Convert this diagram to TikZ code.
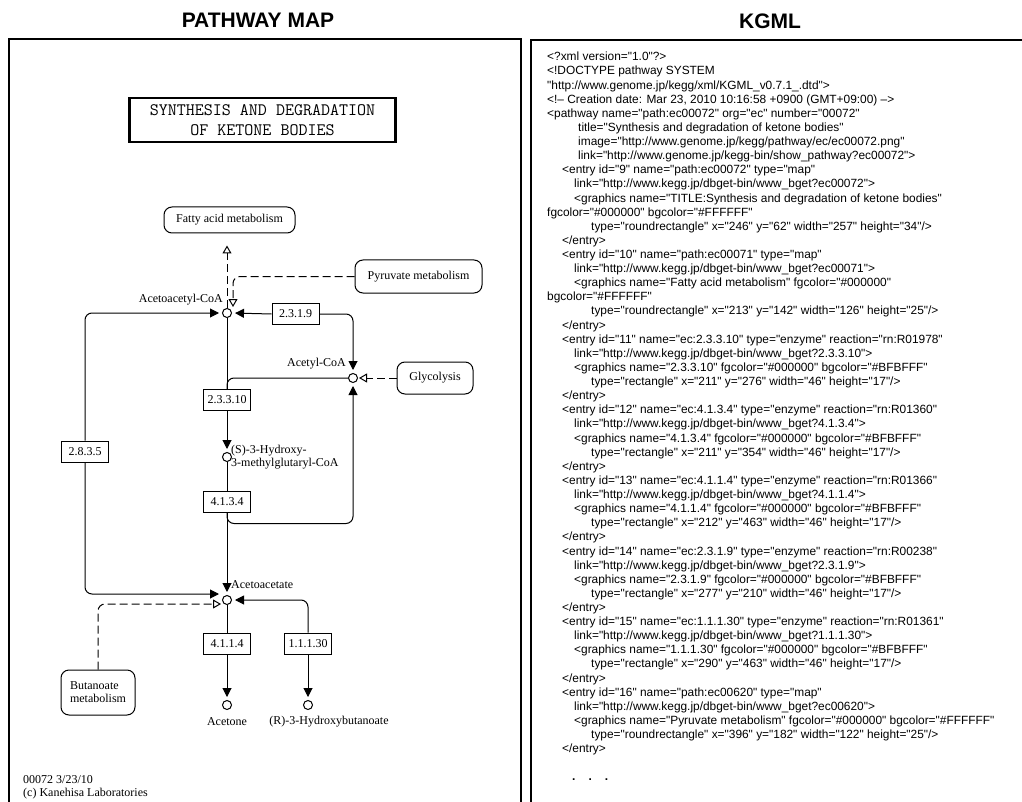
\documentclass[tikz,border=0pt]{standalone}
\usepackage{fontspec}
\setmainfont{Liberation Serif}
\newfontfamily\kgmlfont[Ligatures=TeXOff]{Liberation Sans}
\usetikzlibrary{
    arrows.meta,
    calc
}
\newcommand{\pmapfont}{\fontsize{12}{13}\selectfont}
\newcommand{\headfont}{\kgmlfont\bfseries\fontsize{21}{24}\selectfont}
\newcommand{\ttlfont}{\ttfamily\fontsize{17.5}{20}\selectfont}
\newcommand{\xmlfont}{\kgmlfont\fontsize{11.9}{14.12}\selectfont}
\newcommand{\ki}[1]{\hspace*{#1pt}}
\tikzset{
  every node/.style={
    inner sep=0pt,
    font=\pmapfont
  },
  frame/.style={
    black,
    line width=1.5pt
  }
}

\begin{document}
\begin{tikzpicture}[x=1pt,y=-1pt,
    ecbox/.style={draw,line width=1pt,minimum width=47pt,minimum height=21pt},
    mapbox/.style={draw,line width=1pt,rounded corners=8pt},
    cpd/.style={draw,circle,line width=1pt,minimum size=9pt},
    line/.style={line width=1pt,rounded corners=7pt},
    reac/.style={line,-{Triangle[width=9pt,length=9pt]},shorten >=3pt},
    link/.style={line,dash pattern=on 8pt off 4pt,
        -{Triangle[open,width=9pt,length=8pt]},shorten >=1pt}]

    \useasboundingbox (0,0) rectangle (1022,802);

    % 見出し
    \node[font=\headfont] (hmap) at (258,20) {PATHWAY MAP};
    \node[font=\headfont] (hkgml) at (770,21) {KGML};

    % 枠
    \draw[frame] (9,802) -- (9,39) -- (521,39) -- (521,802);
    \draw[frame] (531,802) -- (531,40) -- (1022,40);

    % タイトル
    \node[draw,line width=2.5pt,minimum width=266pt,minimum height=44pt,
        align=center,font=\ttlfont] (ttl) at (262.5,120)
        {SYNTHESIS AND DEGRADATION\\OF KETONE BODIES};

    % 化合物
    \node[cpd] (aacoa) at (227,313) {};
    \node[cpd] (accoa) at (353,378) {};
    \node[cpd] (hmg) at (227,457) {};
    \node[cpd] (acac) at (227,600) {};
    \node[cpd] (acet) at (227,705) {};
    \node[cpd] (hbut) at (308,705) {};

    % 酵素
    \node[ecbox] (e2319) at (295.5,314) {2.3.1.9};
    \node[ecbox] (e23310) at (227,400) {2.3.3.10};
    \node[ecbox] (e4134) at (227,501.5) {4.1.3.4};
    \node[ecbox] (e2835) at (85,451.5) {2.8.3.5};
    \node[ecbox] (e4114) at (227,643.5) {4.1.1.4};
    \node[ecbox] (e11130) at (308,643.5) {1.1.1.30};

    % 他のパスウェイ
    \node[mapbox,minimum width=131pt,minimum height=26pt] (fam) at (229.5,220) {Fatty acid metabolism};
    \node[mapbox,minimum width=127pt,minimum height=33pt] (pyr) at (418.5,276.5) {Pyruvate metabolism};
    \node[mapbox,minimum width=76pt,minimum height=32pt] (gly) at (435,378) {Glycolysis};
    \node[mapbox,minimum width=74pt,minimum height=45pt,align=left] (but) at (98,692.5) {Butanoate\\metabolism};

    % 反応
    \draw[reac] (e2835.north) |- (aacoa.west);
    \draw[reac] (e2835.south) |- ([yshift=6pt]acac.west);
    \draw[reac] (e2319.west) -- (aacoa.east);
    \draw[reac] (e2319.east) -| (accoa.north);
    \draw[line] (aacoa.south) -- (e23310.north);
    \draw[line] (accoa.west) -| (e23310.north);
    \draw[reac] (e23310.south) -- (hmg.north);
    \draw[line] (hmg.south) -- (e4134.north);
    \draw[reac] (e4134.south) |- ($(e4134.south -| accoa)+(0,11)$) -- (accoa.south);
    \draw[reac] (e4134.south) -- (acac.north);
    \draw[line] (acac.south) -- (e4114.north);
    \draw[reac] (e4114.south) -- (acet.north);
    \draw[reac] (e11130.north) |- (acac.east);
    \draw[reac] (e11130.south) -- (hbut.north);

    % マップへのリンク（破線）
    \draw[link,shorten >=12pt] (aacoa.north) -- (aacoa |- fam.south);
    \draw[link] (pyr.west) -| ([xshift=6pt]aacoa.north);
    \draw[link] (gly.west) -- (accoa.east);
    \draw[link] (but.north) |- ([yshift=-4pt]acac.west);

    % 化合物名
    \node[anchor=east] (laacoa) at (223,300) {Acetoacetyl-CoA};
    \node[anchor=east] (laccoa) at (346,364) {Acetyl-CoA};
    \node[anchor=west,align=left] (lhmg) at (231,457.5) {(S)-3-Hydroxy-\\3-methylglutaryl-CoA};
    \node[anchor=west] (lacac) at (231,585) {Acetoacetate};
    \node (lacet) at (227,722) {Acetone};
    \node (lhbut) at (329,722) {(R)-3-Hydroxybutanoate};

    % 日付
    \node[anchor=west,align=left] (foot) at (23,787.5) {00072 3/23/10\\(c) Kanehisa Laboratories};

    % KGML
    \node[anchor=north west,align=left,font=\xmlfont] (xml) at (547,52) {%
        <?xml version="1.0"?>\\
        <!DOCTYPE pathway SYSTEM\\
        "http://www.genome.jp/kegg/xml/KGML\_v0.7.1\_.dtd">\\
        <!– Creation date: Mar 23, 2010 10:16:58 +0900 (GMT+09:00) –>\\
        <pathway name="path:ec00072" org="ec" number="00072"\\
        \ki{31}title="Synthesis and degradation of ketone bodies"\\
        \ki{31}image="http://www.genome.jp/kegg/pathway/ec/ec00072.png"\\
        \ki{31}link="http://www.genome.jp/kegg-bin/show\_pathway?ec00072">\\
        \ki{15}<entry id="9" name="path:ec00072" type="map"\\
        \ki{27}link="http://www.kegg.jp/dbget-bin/www\_bget?ec00072">\\
        \ki{27}<graphics name="TITLE:Synthesis and degradation of ketone bodies"\\
        fgcolor="\#000000" bgcolor="\#FFFFFF"\\
        \ki{44}type="roundrectangle" x="246" y="62" width="257" height="34"/>\\
        \ki{15}</entry>\\
        \ki{15}<entry id="10" name="path:ec00071" type="map"\\
        \ki{27}link="http://www.kegg.jp/dbget-bin/www\_bget?ec00071">\\
        \ki{27}<graphics name="Fatty acid metabolism" fgcolor="\#000000"\\
        bgcolor="\#FFFFFF"\\
        \ki{44}type="roundrectangle" x="213" y="142" width="126" height="25"/>\\
        \ki{15}</entry>\\
        \ki{15}<entry id="11" name="ec:2.3.3.10" type="enzyme" reaction="rn:R01978"\\
        \ki{27}link="http://www.kegg.jp/dbget-bin/www\_bget?2.3.3.10">\\
        \ki{27}<graphics name="2.3.3.10" fgcolor="\#000000" bgcolor="\#BFBFFF"\\
        \ki{44}type="rectangle" x="211" y="276" width="46" height="17"/>\\
        \ki{15}</entry>\\
        \ki{15}<entry id="12" name="ec:4.1.3.4" type="enzyme" reaction="rn:R01360"\\
        \ki{27}link="http://www.kegg.jp/dbget-bin/www\_bget?4.1.3.4">\\
        \ki{27}<graphics name="4.1.3.4" fgcolor="\#000000" bgcolor="\#BFBFFF"\\
        \ki{44}type="rectangle" x="211" y="354" width="46" height="17"/>\\
        \ki{15}</entry>\\
        \ki{15}<entry id="13" name="ec:4.1.1.4" type="enzyme" reaction="rn:R01366"\\
        \ki{27}link="http://www.kegg.jp/dbget-bin/www\_bget?4.1.1.4">\\
        \ki{27}<graphics name="4.1.1.4" fgcolor="\#000000" bgcolor="\#BFBFFF"\\
        \ki{44}type="rectangle" x="212" y="463" width="46" height="17"/>\\
        \ki{15}</entry>\\
        \ki{15}<entry id="14" name="ec:2.3.1.9" type="enzyme" reaction="rn:R00238"\\
        \ki{27}link="http://www.kegg.jp/dbget-bin/www\_bget?2.3.1.9">\\
        \ki{27}<graphics name="2.3.1.9" fgcolor="\#000000" bgcolor="\#BFBFFF"\\
        \ki{44}type="rectangle" x="277" y="210" width="46" height="17"/>\\
        \ki{15}</entry>\\
        \ki{15}<entry id="15" name="ec:1.1.1.30" type="enzyme" reaction="rn:R01361"\\
        \ki{27}link="http://www.kegg.jp/dbget-bin/www\_bget?1.1.1.30">\\
        \ki{27}<graphics name="1.1.1.30" fgcolor="\#000000" bgcolor="\#BFBFFF"\\
        \ki{44}type="rectangle" x="290" y="463" width="46" height="17"/>\\
        \ki{15}</entry>\\
        \ki{15}<entry id="16" name="path:ec00620" type="map"\\
        \ki{27}link="http://www.kegg.jp/dbget-bin/www\_bget?ec00620">\\
        \ki{27}<graphics name="Pyruvate metabolism" fgcolor="\#000000" bgcolor="\#FFFFFF"\\
        \ki{44}type="roundrectangle" x="396" y="182" width="122" height="25"/>\\
        \ki{15}</entry>};
    \node[anchor=west,font=\xmlfont\bfseries] (xdots) at (572,780) {.\hspace{13pt}.\hspace{13pt}.};

\end{tikzpicture}
\end{document}
